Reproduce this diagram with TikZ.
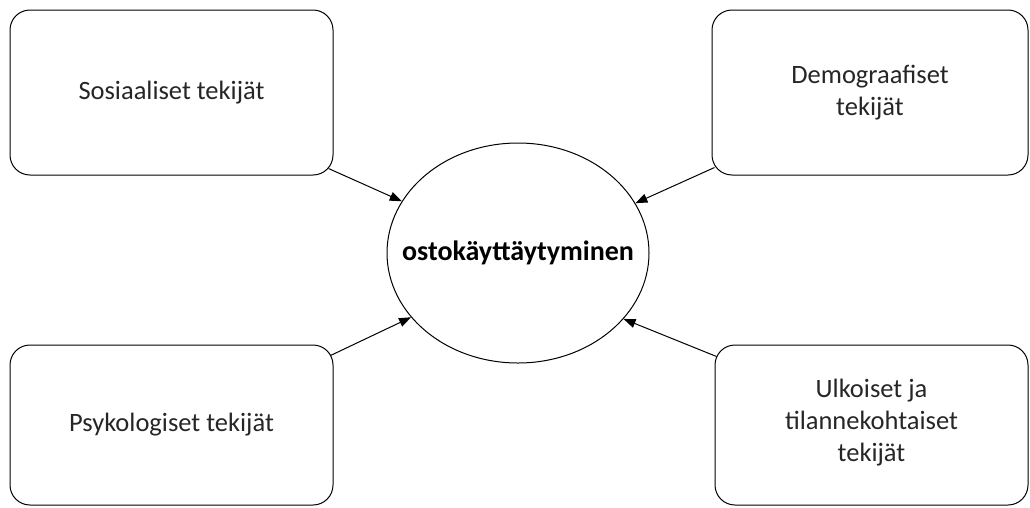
\documentclass[tikz,border=0pt]{standalone}
\usepackage{fontspec}
\setmainfont{Carlito}
\usetikzlibrary{arrows.meta,calc,shapes.geometric}
\begin{document}
\begin{tikzpicture}[x=1pt,y=-1pt,
  box/.style={draw, rounded corners=20pt, line width=1pt, align=center, inner sep=0pt, font=\fontsize{26.5}{32}\selectfont, text=black!85},
  ell/.style={draw, ellipse, line width=1pt, inner ysep=0pt, inner xsep=-30pt, minimum width=262pt, minimum height=220pt, font=\bfseries\fontsize{28}{32}\selectfont},
  arr/.style={-{Triangle[length=12pt,width=9pt]}, line width=1pt}]
\useasboundingbox (0,0) rectangle (1030,507);
\node[box, minimum width=323pt, minimum height=165pt] (tl) at (171.5,92.5) {Sosiaaliset tekijät};
\node[box, minimum width=316pt, minimum height=165pt] (tr) at (870,92.5) {Demograafiset\\tekijät};
\node[box, minimum width=323pt, minimum height=160pt] (bl) at (171.5,425) {Psykologiset tekijät};
\node[box, minimum width=313pt, minimum height=160pt, text depth=10pt] (br) at (871.5,425) {Ulkoiset ja\\tilannekohtaiset\\tekijät};
\node[ell] (e) at (518,253) {ostokäyttäytyminen};
\draw[arr] ($(tl.south east)+(-5,-7)$) -- (e.156);
\draw[arr] ($(tr.south west)+(3,-8)$) -- (e.23);
\draw[arr] ($(bl.north east)+(-3,11)$) -- (e.211);
\draw[arr] ($(br.north west)+(2,12)$) -- (e.328);
\end{tikzpicture}
\end{document}
